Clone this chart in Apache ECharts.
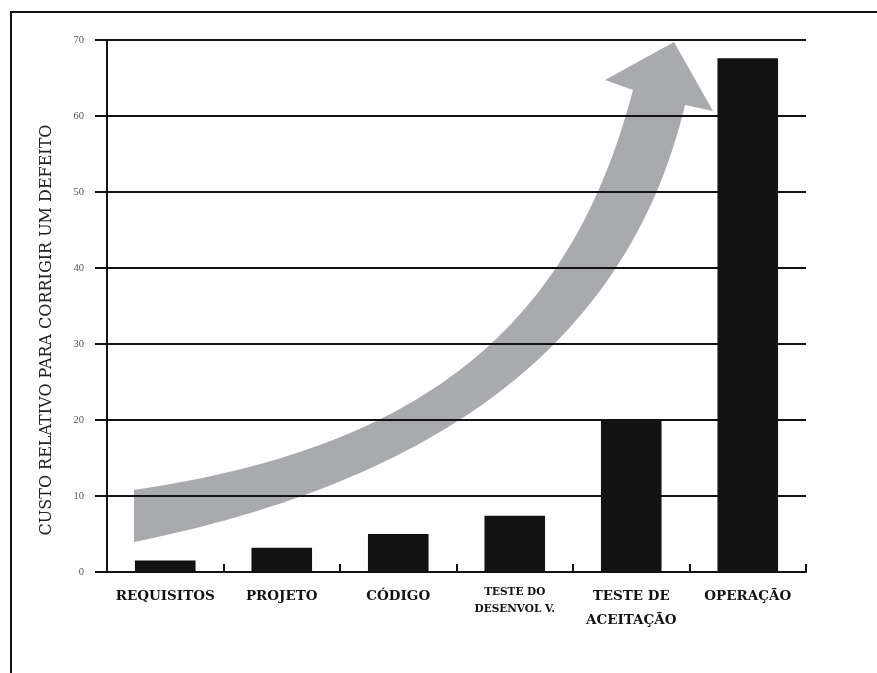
<!DOCTYPE html>
<html>
<head>
<meta charset="utf-8">
<script src="https://cdn.jsdelivr.net/npm/echarts@6/dist/echarts.min.js"></script>
<style>html,body{margin:0;padding:0;background:#fff}#c{width:877px;height:673px}</style>
</head>
<body>
<div id="c"></div>
<script>
const categories = ['REQUISITOS', 'PROJETO', 'CÓDIGO', 'TESTE DO\nDESENVOL V.', 'TESTE DE\nACEITAÇÃO', 'OPERAÇÃO'];
const values = [1.5, 3.2, 5, 7.4, 20, 67.6];
const yTicks = { min: 0, max: 70, interval: 10 };
const yTitle = 'CUSTO RELATIVO PARA CORRIGIR UM DEFEITO';

const chart = echarts.init(document.getElementById('c'), null, { renderer: 'canvas' });
const serif = '"Liberation Serif", serif';
const wideSerif = '"DejaVu Serif", serif';

// decorative curved arrow outline (sampled cubic curves)
function cubic(p0, p1, p2, p3, n) {
  const out = [];
  for (let i = 0; i <= n; i++) {
    const t = i / n, u = 1 - t;
    const a = u * u * u, b = 3 * u * u * t, c = 3 * u * t * t, d = t * t * t;
    out.push([a * p0[0] + b * p1[0] + c * p2[0] + d * p3[0], a * p0[1] + b * p1[1] + c * p2[1] + d * p3[1]]);
  }
  return out;
}
const arrowPts = []
  .concat(cubic([134, 490], [420, 448], [570, 330], [633, 90], 60))
  .concat([[605, 80], [674, 42], [713, 111]])
  .concat(cubic([685, 105], [630, 335], [450, 478], [134, 542], 60));

chart.setOption({
  animation: false,
  backgroundColor: '#ffffff',
  grid: { left: 107, right: 71, top: 40, bottom: 101, containLabel: false },
  xAxis: {
    type: 'category',
    data: categories,
    axisLine: { lineStyle: { color: '#111', width: 2 } },
    axisTick: { show: true, inside: true, length: 8, lineStyle: { color: '#111', width: 2 } },
    axisLabel: {
      interval: 0,
      margin: 12,
      color: '#111',
      fontFamily: wideSerif,
      fontWeight: 'bold',
      fontSize: 13.5,
      lineHeight: 24,
      formatter: function (v) {
        if (v.indexOf('DESENVOL') >= 0) return '{s|' + v + '}';
        return v;
      },
      rich: {
        s: { fontFamily: wideSerif, fontWeight: 'bold', fontSize: 10.5, lineHeight: 17, color: '#111' }
      }
    }
  },
  yAxis: {
    type: 'value',
    min: yTicks.min,
    max: yTicks.max,
    interval: yTicks.interval,
    axisLine: { show: true, lineStyle: { color: '#111', width: 2 } },
    axisTick: { show: true, length: 12, lineStyle: { color: '#111', width: 2 } },
    axisLabel: { color: '#555', fontFamily: serif, fontSize: 10.5, margin: 23 },
    splitLine: { show: true, lineStyle: { color: '#111', width: 2 } }
  },
  series: [{
    type: 'bar',
    data: values,
    barWidth: '52%',
    itemStyle: { color: '#121212' },
    z: 3
  }],
  graphic: [
    {
      type: 'polyline',
      z: 100,
      shape: { points: [[11, 673], [11, 12], [877, 12]] },
      style: { stroke: '#111', lineWidth: 2, fill: null }
    },
    {
      type: 'polygon',
      z: -1,
      shape: { points: arrowPts },
      style: { fill: '#a8aaad', stroke: null }
    },
    {
      type: 'text',
      x: 47,
      y: 330,
      rotation: Math.PI / 2,
      z: 100,
      style: {
        text: yTitle,
        fill: '#222',
        font: '16px "DejaVu Serif", serif',
        align: 'center',
        verticalAlign: 'middle'
      }
    }
  ]
});
</script>
</body>
</html>
